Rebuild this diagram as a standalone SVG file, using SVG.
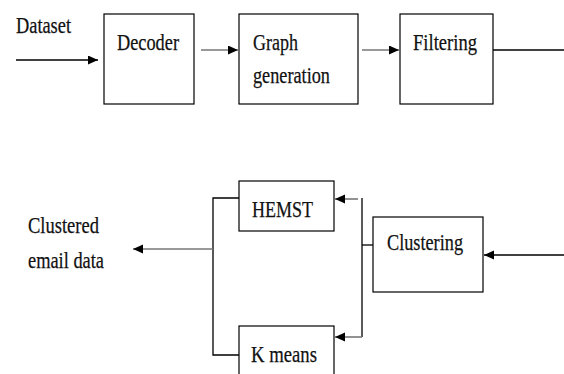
<svg xmlns="http://www.w3.org/2000/svg" width="564" height="374" viewBox="0 0 564 374">
<style>
.box{fill:#fff;stroke:#000;stroke-width:1.2}
text{font-family:"Liberation Serif","Times New Roman",Times,"DejaVu Serif",serif;font-size:24px;fill:#111;stroke:#111;stroke-width:0.25}
.w{fill:none;stroke:#000;stroke-width:1.3}
.g{fill:none;stroke:#777;stroke-width:1.6}
</style>
<defs>
<marker id="ah" markerUnits="userSpaceOnUse" markerWidth="11" markerHeight="10" refX="10" refY="4.5" orient="auto">
<path d="M0,0 L10,4.5 L0,9 Z" fill="#000"/>
</marker>
</defs>
<rect width="564" height="374" fill="#fff"/>
<g id="connectors">
<line class="w" x1="16" y1="60" x2="98" y2="60" marker-end="url(#ah)"/>
<line class="g" x1="201" y1="50" x2="238" y2="50" marker-end="url(#ah)"/>
<line class="g" x1="362" y1="50" x2="399" y2="50" marker-end="url(#ah)"/>
<line class="w" x1="493" y1="50" x2="564" y2="50"/>
<line class="w" x1="564" y1="255" x2="484" y2="255" marker-end="url(#ah)"/>
<polyline class="w" points="373,245 362,245"/>
<line class="w" x1="362" y1="198" x2="362" y2="337"/>
<line class="g" x1="358" y1="199" x2="335" y2="199" marker-end="url(#ah)"/>
<line class="g" x1="362" y1="337" x2="335" y2="337" marker-end="url(#ah)"/>
<polyline class="w" points="239,198 213,198 213,355 239,355"/>
<line class="g" x1="213" y1="249" x2="133" y2="249" marker-end="url(#ah)"/>
</g>
<g id="dataset">
<text x="16" y="33" font-family="Liberation Serif" textLength="55" lengthAdjust="spacingAndGlyphs">Dataset</text>
</g>
<g id="decoder">
<rect class="box" x="104" y="14" width="90" height="90"/>
<text x="117" y="50" textLength="62" lengthAdjust="spacingAndGlyphs">Decoder</text>
</g>
<g id="graph">
<rect class="box" x="239" y="14" width="119" height="90"/>
<text x="253" y="50" textLength="45" lengthAdjust="spacingAndGlyphs">Graph</text>
<text x="253" y="83" textLength="77" lengthAdjust="spacingAndGlyphs">generation</text>
</g>
<g id="filtering">
<rect class="box" x="400" y="14" width="93" height="90"/>
<text x="413" y="50" textLength="64" lengthAdjust="spacingAndGlyphs">Filtering</text>
</g>
<g id="clustering">
<rect class="box" x="373" y="217" width="110" height="75"/>
<text x="387" y="250" textLength="76" lengthAdjust="spacingAndGlyphs">Clustering</text>
</g>
<g id="hemst">
<rect class="box" x="239" y="181" width="95" height="50"/>
<text x="252" y="217" textLength="61" lengthAdjust="spacingAndGlyphs">HEMST</text>
</g>
<g id="kmeans">
<rect class="box" x="239" y="326" width="95" height="60"/>
<text x="251" y="362" textLength="66" lengthAdjust="spacingAndGlyphs">K means</text>
</g>
<g id="output">
<text x="28" y="233" textLength="71" lengthAdjust="spacingAndGlyphs">Clustered</text>
<text x="28" y="268" textLength="76" lengthAdjust="spacingAndGlyphs">email data</text>
</g>
</svg>
